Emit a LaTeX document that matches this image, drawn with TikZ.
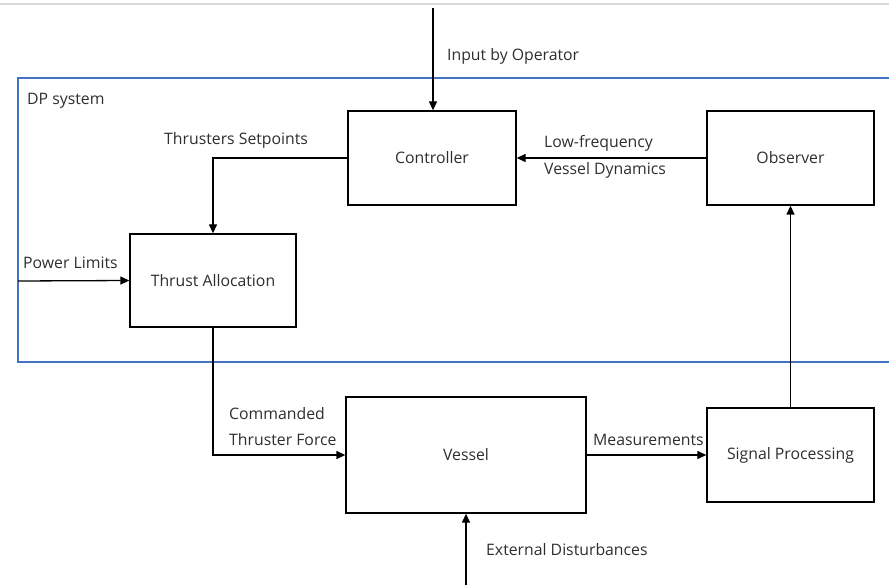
\documentclass[tikz,border=0pt]{standalone}
\usepackage{fontspec}
\setmainfont{Open Sans}
\usetikzlibrary{arrows.meta}
\begin{document}
\begin{tikzpicture}[x=1pt,y=-1pt,
  blk/.style={draw=black,line width=1.3pt,minimum width=#1,inner sep=0pt},
  conn/.style={line width=1.3pt,-{Triangle[length=9pt,width=8pt]}},
  lbl/.style={font=\fontsize{15.8}{18}\selectfont,anchor=west,inner sep=0pt,text=black!82}]
\useasboundingbox (0,0) rectangle (889,585);
\draw[black!15,line width=1.5pt] (0,4) -- (889,4);
\draw[color={rgb,255:red,68;green,114;blue,196},line width=1.3pt] (889,78) -- (18,78) -- (18,362) -- (889,362);
\node[lbl] (dp) at (27,101) {DP system};
\node[blk=168pt,minimum height=94pt] (ctrl) at (432,158) {};
\node[lbl,anchor=center] at (ctrl.center) {Controller};
\node[blk=167pt,minimum height=94pt] (obs) at (790.5,158) {};
\node[lbl,anchor=center] at (obs.center) {Observer};
\node[blk=166pt,minimum height=93pt] (ta) at (213,280.5) {};
\node[lbl,anchor=center] at (ta.center) {Thrust Allocation};
\node[blk=240pt,minimum height=116pt] (ves) at (466,455) {};
\node[lbl,anchor=center] at (ves.center) {Vessel};
\node[blk=167pt,minimum height=94pt] (sp) at (790.5,455) {};
\node[lbl,anchor=center] at (sp.center) {Signal Processing};
\coordinate (inp) at (433,8);
\coordinate (pw) at (18,281);
\coordinate (ext) at (466,585);
\draw[conn] (inp) -- (inp |- ctrl.north);
\draw[conn] (obs.west) -- (ctrl.east);
\draw[conn] (ctrl.west) -| (ta.north);
\draw[conn] (pw) -- (ta.west);
\draw[conn] (ta.south) |- (ves.west);
\draw[conn] (ves.east) -- (sp.west);
\draw[conn] (sp.north) -- (obs.south);
\draw[conn] (ext) -- (ves.south);
\node[lbl] at (447,56) {Input by Operator};
\node[lbl] at (544,143) {Low-frequency};
\node[lbl] at (544,170) {Vessel Dynamics};
\node[lbl] at (164,140) {Thrusters Setpoints};
\node[lbl] at (23,263) {Power Limits};
\node[lbl] at (229,414) {Commanded};
\node[lbl] at (229,440) {Thruster Force};
\node[lbl] at (593,440) {Measurements};
\node[lbl] at (486,550) {External Disturbances};
\end{tikzpicture}
\end{document}
